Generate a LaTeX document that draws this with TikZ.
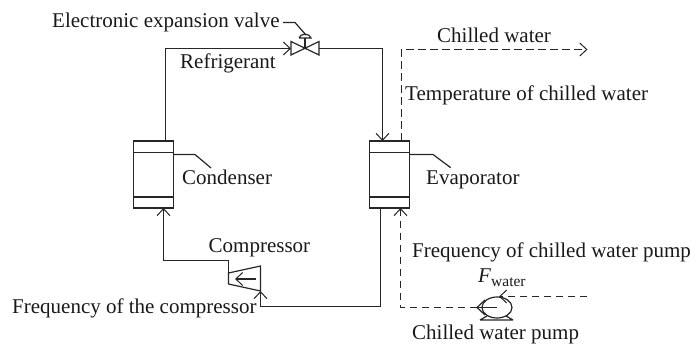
\documentclass[tikz,border=0pt]{standalone}
\usepackage{fontspec}
\setmainfont{Liberation Serif}
\usetikzlibrary{arrows.meta,shapes.geometric}
\tikzset{
 x=1pt,y=-1pt,
 ln/.style={line width=1.2pt,black!85},
 barb/.style={-{Straight Barb[length=7pt,width=13pt,line width=1pt]}},
 flow/.style={ln,barb},
 dflow/.style={flow,dash pattern=on 7.5pt off 4.5pt},
 dl/.style={ln,dash pattern=on 7.5pt off 4.5pt},
 lab/.style={inner sep=0pt,anchor=base west,font=\fontsize{21}{23}\selectfont,text=black!90},
 box/.style={ln,draw,minimum width=40pt,minimum height=67pt,inner sep=0pt,outer sep=0pt},
}
\begin{document}
\begin{tikzpicture}
\useasboundingbox (0,0) rectangle (700,347);
% heat exchangers
\node[box] (cond) at (153.5,174.5) {};
\node[box] (evap) at (389.5,174.5) {};
\draw[ln] (133.5,152.5) -- (173.5,152.5) (133.5,197) -- (173.5,197);
\draw[ln] (369.5,152.5) -- (409.5,152.5) (369.5,197) -- (409.5,197);
% valve
\coordinate (vl) at (291,48.5); \coordinate (vr) at (319,48.5); \coordinate (vc) at (305,48.5);
\draw[ln] (291,41.5) -- (319,55) -- (319,41.5) -- (291,55) -- cycle;
\draw[ln] (vc) -- (305,38);
\draw[ln] (299,38) -- (311,38) .. controls (310,33) and (300,33) .. (299,38);
% compressor
\coordinate (ci) at (260.5,291); \coordinate (co) at (228.5,260.5);
\draw[ln] (228.5,273) -- (260.5,266) -- (260.5,291) -- (228.5,284) -- cycle;
\draw[flow] (256,279) -- (235,279);
% pump
\node[ln,draw,ellipse,minimum width=30pt,minimum height=21pt,inner sep=0pt,outer sep=0pt] (pump) at (497,307.5) {};
\draw[ln] (477,307.5) -- (497,307.5);
\draw[ln] (485,300) -- (477,307.5) -- (485,315);
\draw[ln] (480,320) -- (487,316) (513,320) -- (506,316) (480,320) -- (513,320);
% refrigerant loop
\coordinate (c1) at (165.5,48.5);
\draw[flow] (165.5,141) -- (c1) -- (vl);
\coordinate (e1) at (382.5,48.5);
\draw[flow] (vr) -- (e1) -- (382.5,141);
\coordinate (e2) at (380.5,306.5);
\draw[flow] (380.5,208) -- (e2) -- (260.5,306.5) -- (ci);
\coordinate (c2) at (163.5,260.5);
\draw[flow] (228.5,273) -- (co) -- (c2) -- (163.5,208);
% water lines
\draw[dflow] (401.5,141) -- (401.5,49.5) -- (587.5,49.5);
\draw[dflow] (477,307.5) -- (400.5,307.5) -- (400.5,208);
\draw[dl,barb] (587,296.5) -- (499,296.5);
% leaders
\draw[ln] (283,22.5) -- (295,22.5) -- (306,35);
\draw[ln] (173.5,154.5) -- (195,154.5) -- (211,168);
\draw[ln] (409.5,154.5) -- (433,154.5) -- (450.7,167.7);
% labels
\node[lab] (l1) at (52,27.3) {Electronic expansion valve};
\node[lab] (l2) at (180,68.3) {Refrigerant};
\node[lab] (l3) at (437,42.3) {Chilled water};
\node[lab] (l4) at (405,100.7) {Temperature of chilled water};
\node[lab] (l5) at (182,185) {Condenser};
\node[lab] (l6) at (426,185) {Evaporator};
\node[lab] (l7) at (208.5,252.3) {Compressor};
\node[lab] (l8) at (12,313.3) {Frequency of the compressor};
\node[lab] (l9) at (412,257.7) {Frequency of chilled water pump};
\node[lab] (l10) at (478,282) {\textit{F}\raisebox{-4pt}{\fontsize{15.5}{16}\selectfont water}};
\node[lab] (l11) at (412,339.7) {Chilled water pump};
\end{tikzpicture}
\end{document}
